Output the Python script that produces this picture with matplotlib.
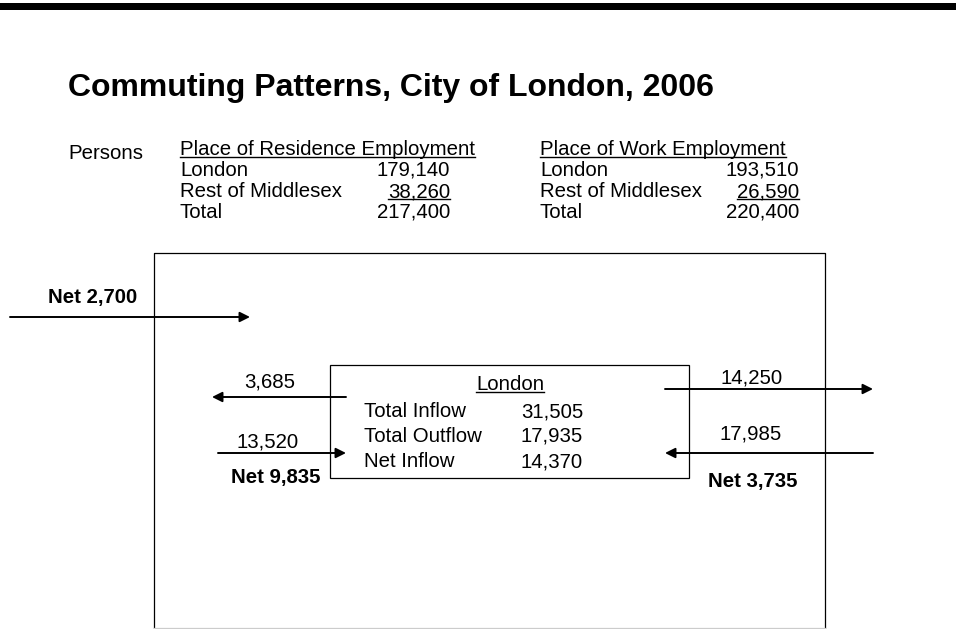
import matplotlib.pyplot as plt
from matplotlib.patches import Rectangle

plt.rcParams['font.family'] = ['Liberation Sans', 'DejaVu Sans']

# Data
title = "Commuting Patterns, City of London, 2006"
row_labels = ["London", "Rest of Middlesex", "Total"]
residence_vals = [179140, 38260, 217400]
work_vals = [193510, 26590, 220400]
london_labels = ["Total Inflow", "Total Outflow", "Net Inflow"]
london_vals = [31505, 17935, 14370]
west_out, west_in = 3685, 13520
east_out, east_in = 14250, 17985
outer_net = 2700
west_net = west_in - west_out
east_net = east_in - east_out

W, H = 956, 629
fig = plt.figure(figsize=(W / 100, H / 100), dpi=100)
ax = fig.add_axes([0, 0, 1, 1])
ax.set_xlim(0, W)
ax.set_ylim(H, 0)
ax.axis('off')

FS = 14.7
underlines = []


def txt(x, y, s, ha='left', bold=False, size=FS, under=False):
    t = ax.text(x, y, s, ha=ha, va='baseline', fontsize=size,
                fontweight='bold' if bold else 'normal', color='black')
    if under:
        underlines.append((t, y))
    return t


def arrow(x0, x1, y):
    ax.annotate('', xy=(x1, y), xytext=(x0, y),
                arrowprops=dict(arrowstyle='-|>', mutation_scale=15, lw=1.4,
                                color='black', shrinkA=0, shrinkB=0))


# top bar
ax.add_patch(Rectangle((0, 3), W, 7, color='black', lw=0))

txt(68, 96, title, bold=True, size=23)

# tables
txt(68, 159, "Persons")
txt(180, 155, "Place of Residence Employment", under=True)
txt(540, 155, "Place of Work Employment", under=True)
base = [176, 197, 218]
for i, lab in enumerate(row_labels):
    txt(180, base[i], lab)
    txt(450, base[i], f"{residence_vals[i]:,}", ha='right', under=(i == 1))
    txt(540, base[i], lab)
    txt(799, base[i], f"{work_vals[i]:,}", ha='right', under=(i == 1))

# outer box
ax.plot([154, 154, 825, 825], [H, 253, 253, H], color='black', lw=0.9)
ax.plot([154, 825], [628, 628], color='#cccccc', lw=0.9)

# London box
ax.add_patch(Rectangle((330, 365), 359, 113, fill=False, ec='black', lw=0.9))
txt(510, 390, "London", ha='center', under=True)
lb = [417, 442, 467]
for i, lab in enumerate(london_labels):
    txt(364, lb[i], lab)
    txt(583, lb[i], f"{london_vals[i]:,}", ha='right')

# flows
arrow(10, 250, 317)
txt(137, 303, f"Net {outer_net:,}", ha='right', bold=True)

arrow(346, 212, 397)
txt(270, 388, f"{west_out:,}", ha='center')
arrow(218, 346, 453)
txt(268, 448, f"{west_in:,}", ha='center')
txt(321, 483, f"Net {west_net:,}", ha='right', bold=True)

arrow(665, 873, 389)
txt(752, 383, f"{east_out:,}", ha='center')
arrow(873, 665, 453)
txt(751, 439, f"{east_in:,}", ha='center')
txt(753, 487, f"Net {east_net:,}", ha='center', bold=True)

# underlines drawn under measured text extents
fig.canvas.draw()
inv = ax.transData.inverted()
for t, y in underlines:
    bb = t.get_window_extent()
    (x0, _), (x1, _) = inv.transform([(bb.x0, 0), (bb.x1, 0)])
    ax.plot([x0, x1], [y + 2, y + 2], color='black', lw=1.0)

fig.savefig('out.png', dpi=100)
